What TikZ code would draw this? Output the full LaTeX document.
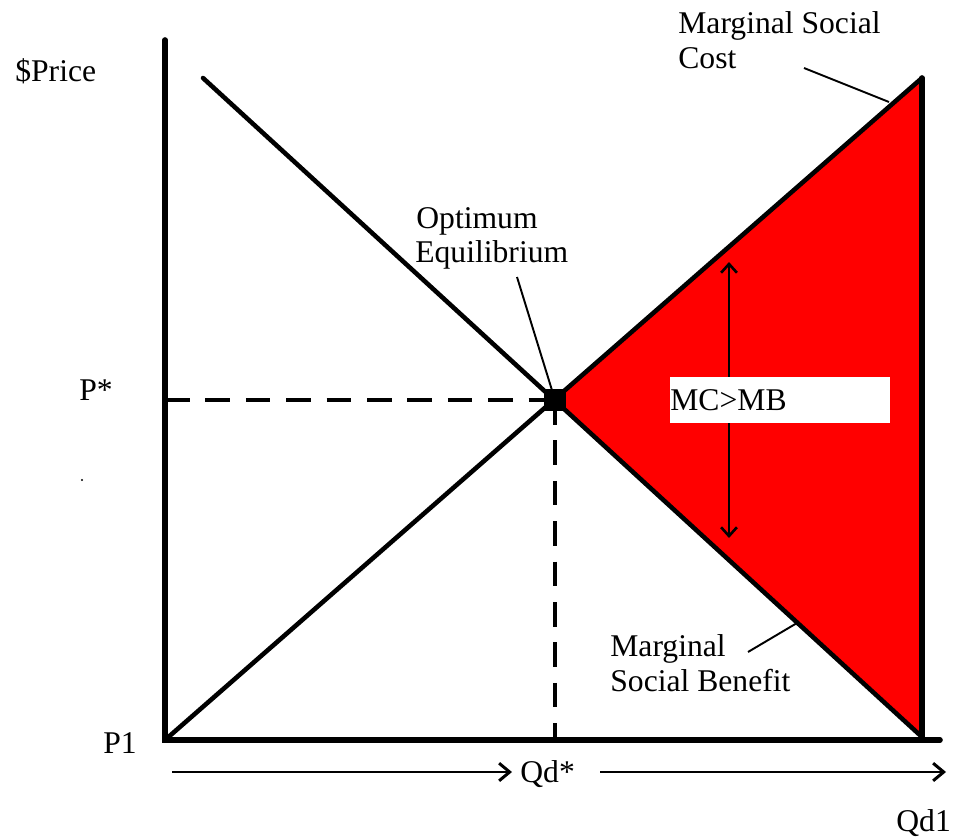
\documentclass[tikz,border=0pt]{standalone}
\usepackage{fontspec}
\setmainfont{Liberation Serif}
\usetikzlibrary{arrows.meta}
\begin{document}
\begin{tikzpicture}[x=0.02cm,y=-0.02cm,
  lbl/.style={font=\fontsize{18}{20}\selectfont, inner sep=0pt},
  axis/.style={line width=3.2pt, line cap=round},
  curve/.style={line width=2.6pt, line cap=round},
  guide/.style={line width=1.8pt, dash pattern=on 14pt off 9pt},
  leader/.style={line width=1.1pt},
  flow/.style={line width=1.7pt, -{Straight Barb[length=6pt,width=10pt,line width=1.7pt]}},
  dbl/.style={line width=1.5pt, {Straight Barb[length=5pt,width=9pt]}-{Straight Barb[length=5pt,width=9pt]}}]
\useasboundingbox (0,0) rectangle (954,838);
\coordinate (O) at (165,740);
\coordinate (E) at (555,400);
\coordinate (T) at (922,78);
\coordinate (B) at (922,737);
\coordinate (D0) at (203,78);
\coordinate (Ytop) at (165,40);
\coordinate (Xend) at (940,740);
\coordinate (Pl) at (165,400);
\coordinate (Qb) at (555,740);
% shaded area
\fill[red] (E) -- (T) -- (B) -- cycle;
% curves
\draw[curve] (O) -- (T);
\draw[curve] (D0) -- (B);
\draw[axis] (T) -- (B);
% guides
\draw[guide] (Pl) -- (E);
\draw[guide] (E) -- (Qb);
% axes
\draw[axis] (Ytop) -- (O) -- (Xend);
% equilibrium dot
\node[fill=black, minimum size=13pt, inner sep=0pt] (eq) at (E) {};
% MC>MB
\coordinate (A1) at (729,262);
\coordinate (A2) at (729,538);
\draw[dbl] (A1) -- (A2);
\node[fill=white, minimum width=220*0.02cm, minimum height=46*0.02cm, inner sep=0pt] (box) at (780,400) {};
\node[lbl, anchor=base west] (mcmb) at (670,410) {MC>MB};
% labels
\node[lbl, anchor=base west] (price) at (15,82) {\$Price};
\node[lbl, anchor=base west] (pstar) at (79,400) {P*};
\node[lbl, anchor=base west] (p1) at (103,753) {P1};
\fill (82,480) circle (0.7pt);
\node[lbl, anchor=base west] (opt1) at (416,229) {Optimum};
\node[lbl, anchor=base west] (opt2) at (415,262) {Equilibrium};
\coordinate (optl) at (517,277);
\draw[leader] (optl) -- (eq.center);
\node[lbl, anchor=base west] (msc1) at (678,34) {Marginal Social};
\node[lbl, anchor=base west] (msc2) at (678,69) {Cost};
\coordinate (mscA) at (804,68);
\coordinate (mscB) at (889,102);
\draw[leader] (mscA) -- (mscB);
\node[lbl, anchor=base west] (msb1) at (610,656) {Marginal};
\node[lbl, anchor=base west] (msb2) at (610,691) {Social Benefit};
\coordinate (msbA) at (748,652);
\coordinate (msbB) at (797,623);
\draw[leader] (msbA) -- (msbB);
% quantity arrows
\node[lbl, anchor=base west] (qd) at (520,782) {Qd*};
\node[lbl, anchor=base west] (qd1) at (896,831) {Qd1};
\coordinate (f1) at (172,772);
\coordinate (f1e) at (512,772);
\coordinate (f2) at (600,772);
\coordinate (f3) at (946,772);
\draw[flow] (f1) -- (f1e);
\draw[flow] (f2) -- (f3);
\end{tikzpicture}
\end{document}
